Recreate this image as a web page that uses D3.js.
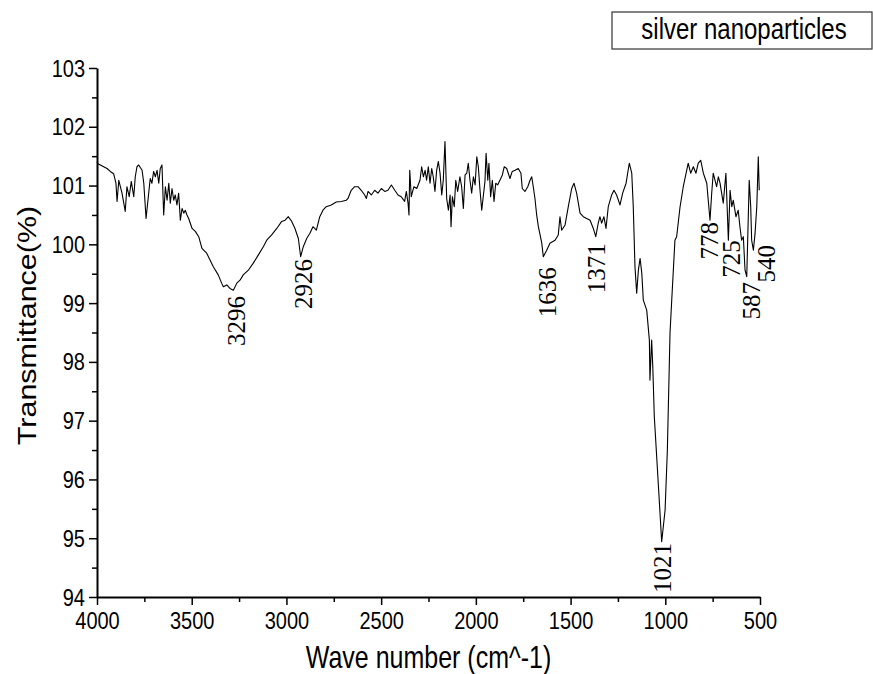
<!DOCTYPE html>
<html>
<head>
<meta charset="utf-8">
<script src="https://cdn.jsdelivr.net/npm/d3@7"></script>
<style>
  body { margin: 0; background: #fff; }
  svg { display: block; }
</style>
</head>
<body>
<svg id="chart" width="873" height="674"></svg>
<script>
// spectrum (wave number in cm^-1, transmittance in %)
const waveNumber = [
  4000, 3995, 3947, 3930, 3912, 3900, 3894, 3885, 3868, 3851, 3842, 3830, 3819, 3806, 3798, 3789,
  3780, 3762, 3753, 3741, 3731, 3719, 3710, 3701, 3692, 3683, 3674, 3666, 3657, 3648, 3639, 3630,
  3621, 3613, 3604, 3595, 3587, 3578, 3569, 3560, 3551, 3542, 3534, 3525, 3516, 3498, 3481, 3463,
  3446, 3421, 3386, 3360, 3342, 3333, 3315, 3298, 3280, 3262, 3245, 3228, 3201, 3175, 3148, 3122,
  3104, 3078, 3051, 3025, 3007, 2990, 2972, 2955, 2937, 2925, 2911, 2893, 2876, 2860, 2842, 2824,
  2807, 2790, 2763, 2737, 2710, 2684, 2675, 2658, 2640, 2622, 2605, 2587, 2578, 2569, 2552, 2534,
  2517, 2499, 2481, 2464, 2446, 2428, 2411, 2394, 2376, 2367, 2358, 2353, 2349, 2341, 2327, 2312,
  2295, 2286, 2277, 2268, 2260, 2251, 2242, 2233, 2225, 2216, 2207, 2198, 2189, 2180, 2172, 2163,
  2154, 2145, 2136, 2131, 2124, 2114, 2106, 2096, 2084, 2075, 2066, 2057, 2048, 2040, 2031, 2022,
  2013, 2004, 1995, 1987, 1978, 1969, 1961, 1952, 1946, 1937, 1931, 1922, 1913, 1904, 1895, 1885,
  1873, 1860, 1850, 1837, 1820, 1808, 1793, 1776, 1762, 1755, 1741, 1726, 1714, 1705, 1697, 1688,
  1679, 1670, 1652, 1644, 1626, 1609, 1582, 1565, 1556, 1547, 1529, 1512, 1494, 1482, 1468, 1450,
  1433, 1415, 1397, 1380, 1367, 1354, 1345, 1336, 1324, 1313, 1301, 1283, 1271, 1257, 1239, 1225,
  1207, 1190, 1177, 1169, 1160, 1151, 1142, 1133, 1124, 1116, 1098, 1084, 1081, 1072, 1066, 1058,
  1037, 1019, 1001, 989, 979, 975, 966, 949, 940, 922, 905, 887, 879, 866, 852, 838,
  826, 813, 799, 781, 764, 755, 747, 729, 720, 711, 694, 680, 667, 658, 649, 641,
  627, 615, 606, 597, 588, 579, 570, 565, 557, 549, 544, 535, 526, 517, 509, 504
];
const transmittance = [
  101.40, 101.37, 101.29, 101.24, 101.20, 101.04, 100.73, 101.09, 100.87, 100.56, 100.98, 100.81, 101.07, 100.81, 101.15, 101.32,
  101.35, 101.26, 101.04, 100.44, 100.75, 101.12, 101.04, 101.24, 101.15, 101.26, 101.04, 101.29, 101.35, 100.50, 100.98, 100.75,
  101.04, 100.70, 100.95, 100.75, 100.84, 100.67, 100.87, 100.41, 100.61, 100.53, 100.58, 100.50, 100.44, 100.27, 100.22, 100.13,
  99.93, 99.85, 99.62, 99.48, 99.34, 99.28, 99.31, 99.25, 99.22, 99.34, 99.39, 99.48, 99.56, 99.68, 99.82, 99.96,
  100.07, 100.16, 100.27, 100.39, 100.41, 100.47, 100.39, 100.27, 100.10, 99.79, 99.96, 100.10, 100.19, 100.30, 100.24, 100.47,
  100.58, 100.64, 100.67, 100.72, 100.73, 100.75, 100.78, 100.92, 100.98, 100.98, 100.92, 100.84, 100.78, 100.90, 100.84, 100.92,
  100.87, 100.95, 100.90, 100.92, 101.01, 100.92, 100.84, 100.81, 100.73, 100.90, 100.70, 100.50, 101.26, 100.81, 100.98, 100.95,
  101.09, 101.32, 101.15, 101.26, 101.09, 101.32, 101.04, 101.29, 101.15, 100.90, 101.26, 101.41, 101.21, 100.84, 101.09, 101.75,
  100.78, 100.58, 100.84, 100.30, 100.81, 100.64, 101.09, 100.90, 101.15, 100.98, 100.61, 101.18, 101.21, 101.38, 101.09, 100.87,
  101.15, 101.01, 101.49, 101.32, 100.92, 100.58, 100.81, 101.07, 101.55, 101.09, 101.38, 100.81, 101.09, 100.73, 101.04, 101.01,
  101.09, 101.18, 101.32, 101.29, 101.12, 101.24, 101.26, 101.29, 101.21, 100.95, 100.90, 100.98, 101.09, 101.15, 100.98, 100.78,
  100.50, 100.30, 100.02, 99.79, 99.90, 100.02, 100.07, 100.16, 100.47, 100.24, 100.33, 100.64, 100.95, 101.04, 100.87, 100.53,
  100.47, 100.44, 100.41, 100.27, 100.13, 100.36, 100.47, 100.36, 100.47, 100.27, 100.64, 100.84, 100.92, 100.84, 100.67, 100.87,
  101.04, 101.38, 101.21, 100.64, 99.62, 99.17, 99.56, 99.76, 99.51, 99.05, 98.88, 98.37, 97.69, 98.37, 97.92, 97.07,
  95.93, 94.94, 95.48, 96.50, 97.92, 98.49, 99.05, 100.07, 100.13, 100.64, 100.98, 101.26, 101.38, 101.21, 101.32, 101.21,
  101.38, 101.43, 101.21, 101.04, 100.41, 100.87, 101.21, 100.98, 101.15, 101.04, 100.70, 101.21, 100.07, 100.92, 100.64, 100.75,
  100.47, 100.58, 100.30, 100.07, 100.13, 99.56, 99.45, 100.07, 101.09, 100.64, 100.07, 99.90, 100.19, 100.64, 101.49, 100.92
];

// peak annotations: text, and where the top of each rotated label sits (data units)
const peakLabels = ["3296", "2926", "1636", "1371", "1021", "778", "725", "587", "540"];
const peakLabelW = [3261, 2907, 1619, 1360, 1012, 764, 648, 542, 463];
const peakLabelT = [99.12, 99.75, 99.61, 100.02, 94.92, 100.38, 100.07, 99.36, 99.99];

const xTicks = [4000, 3500, 3000, 2500, 2000, 1500, 1000, 500];
const yTicks = [94, 95, 96, 97, 98, 99, 100, 101, 102, 103];
const seriesName = "silver nanoparticles";
const xTitle = "Wave number (cm^-1)";
const yTitle = "Transmittance(%)";

const size = { width: 873, height: 674 };
const margin = { left: 97, right: 113, top: 68, bottom: 77 };
const sans = "'Liberation Sans', Arial, sans-serif";
const serif = "'Liberation Serif', 'Times New Roman', serif";
const stretch = 1.22; // the sans text in the original is drawn taller than wide

const svg = d3.select("#chart");

const x = d3.scaleLinear()
  .domain([4000, 500])
  .range([margin.left, size.width - margin.right]);
const y = d3.scaleLinear()
  .domain([94, 103])
  .range([size.height - margin.bottom, margin.top]);

const spectrum = waveNumber.map((w, i) => ({ w, t: transmittance[i] }));

// minor ticks first so the major ones draw on top
const minorX = d3.range(3750, 500, -500);
const minorY = d3.range(94.5, 103, 1);

svg.append("g")
  .attr("transform", `translate(0,${y(94)})`)
  .call(d3.axisBottom(x).tickValues(minorX).tickSize(5).tickSizeOuter(0).tickFormat(""))
  .call(g => g.select(".domain").remove())
  .call(g => g.selectAll("line").attr("stroke-width", 1.5));

svg.append("g")
  .attr("transform", `translate(${x(4000)},0)`)
  .call(d3.axisLeft(y).tickValues(minorY).tickSize(5).tickSizeOuter(0).tickFormat(""))
  .call(g => g.select(".domain").remove())
  .call(g => g.selectAll("line").attr("stroke-width", 1.5));

const xAxis = svg.append("g")
  .attr("transform", `translate(0,${y(94)})`)
  .call(d3.axisBottom(x).tickValues(xTicks).tickSize(8).tickSizeOuter(0).tickFormat(d3.format("d")));

const yAxis = svg.append("g")
  .attr("transform", `translate(${x(4000)},0)`)
  .call(d3.axisLeft(y).tickValues(yTicks).tickSize(8).tickSizeOuter(0).tickFormat(d3.format("d")));

[xAxis, yAxis].forEach(g => {
  g.select(".domain").attr("stroke-width", 2);
  g.selectAll(".tick line").attr("stroke-width", 1.5);
  g.selectAll(".tick text")
    .attr("font-family", sans)
    .attr("font-size", 20)
    .attr("fill", "#000")
    .attr("y", null)
    .attr("x", null)
    .attr("dy", null);
});

// re-place the tick labels so they can be stretched vertically
xAxis.selectAll(".tick text")
  .attr("transform", `translate(0,32) scale(1,${stretch})`);
yAxis.selectAll(".tick text")
  .attr("transform", `translate(-12,8) scale(1,${stretch})`);

// the spectrum
const line = d3.line()
  .x(d => x(d.w))
  .y(d => y(d.t));

svg.append("path")
  .datum(spectrum)
  .attr("d", line)
  .attr("fill", "none")
  .attr("stroke", "#000")
  .attr("stroke-width", 1.1)
  .attr("stroke-linejoin", "round");

// rotated peak labels
svg.append("g")
  .selectAll("text")
  .data(peakLabels)
  .join("text")
  .attr("transform", (d, i) => `translate(${x(peakLabelW[i])},${y(peakLabelT[i])}) rotate(-90)`)
  .attr("text-anchor", "end")
  .attr("dy", "0.33em")
  .attr("font-family", serif)
  .attr("font-size", 25)
  .attr("fill", "#000")
  .text(d => d);

// axis titles
svg.append("text")
  .attr("transform", `translate(${(x(4000) + x(500)) / 2},668) scale(1,${stretch})`)
  .attr("text-anchor", "middle")
  .attr("font-family", sans)
  .attr("font-size", 25)
  .text(xTitle);

svg.append("text")
  .attr("transform", `translate(36,${(y(94) + y(103)) / 2 - 7}) rotate(-90) scale(${stretch},1)`)
  .attr("text-anchor", "middle")
  .attr("font-family", sans)
  .attr("font-size", 25)
  .text(yTitle);

// legend box in the top right corner
const legend = svg.append("g");
legend.append("rect")
  .attr("x", 612)
  .attr("y", 12)
  .attr("width", 260)
  .attr("height", 37)
  .attr("fill", "#fff")
  .attr("stroke", "#333")
  .attr("stroke-width", 1.2);
legend.append("text")
  .attr("transform", `translate(744,39) scale(1,${stretch})`)
  .attr("text-anchor", "middle")
  .attr("font-family", sans)
  .attr("font-size", 24)
  .text(seriesName);
</script>
</body>
</html>
